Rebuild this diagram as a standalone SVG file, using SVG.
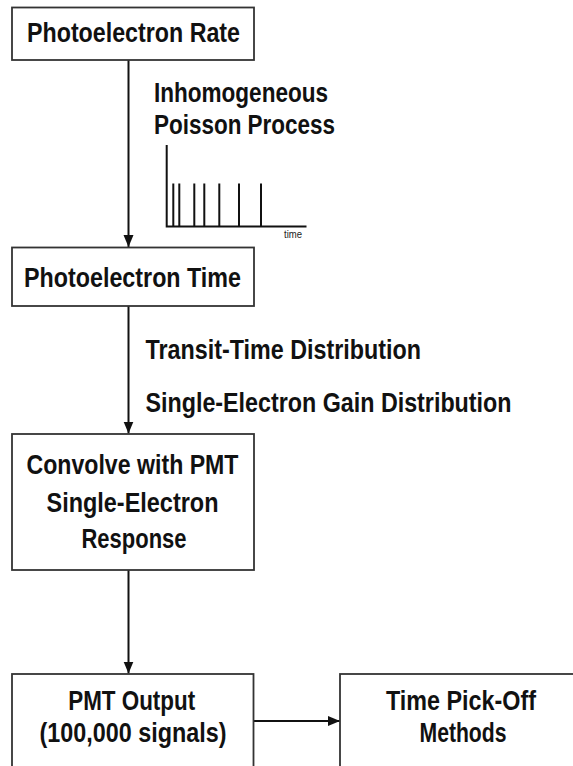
<svg xmlns="http://www.w3.org/2000/svg" width="573" height="766" viewBox="0 0 573 766">
<defs>
<marker id="ah" markerWidth="12" markerHeight="12" refX="12" refY="5.5" orient="auto" markerUnits="userSpaceOnUse">
<path d="M0,0.5 L12,5.5 L0,10.5 Z" fill="#111"/>
</marker>
<style>
.box{fill:#fff;stroke:#333;stroke-width:1.8}
.t{font-family:"Liberation Sans",Arial,sans-serif;font-weight:bold;font-size:27px;fill:#111}
.c{text-anchor:middle}
.conn{stroke:#111;stroke-width:2;fill:none}
.plot{stroke:#111;stroke-width:2;fill:none}
.small{font-family:"Liberation Sans",Arial,sans-serif;font-size:10px;fill:#222}
</style>
</defs>
<rect width="573" height="766" fill="#fff"/>
<g id="connectors">
<line class="conn" x1="128.5" y1="60" x2="128.5" y2="247" marker-end="url(#ah)"/>
<line class="conn" x1="128.5" y1="306" x2="128.5" y2="433.5" marker-end="url(#ah)"/>
<line class="conn" x1="128.5" y1="570" x2="128.5" y2="673.5" marker-end="url(#ah)"/>
<line class="conn" x1="254" y1="721" x2="340" y2="721" marker-end="url(#ah)"/>
</g>
<g id="n1">
<rect class="box" x="12" y="7.5" width="242" height="52.5"/>
<text class="t c" x="133.5" y="42" textLength="213" lengthAdjust="spacingAndGlyphs">Photoelectron Rate</text>
</g>
<g id="label1">
<text class="t" x="154" y="101.5" textLength="174" lengthAdjust="spacingAndGlyphs">Inhomogeneous</text>
<text class="t" x="154" y="133.5" textLength="181" lengthAdjust="spacingAndGlyphs">Poisson Process</text>
</g>
<g id="poisson-plot">
<path class="plot" d="M166.7,145 V226.5 H306.5"/>
<path class="plot" d="M173.3,183.5 V226 M179.3,183.5 V226 M194.3,183.5 V226 M204.3,183.5 V226 M219.3,183.5 V226 M239,183.5 V226 M261,183.5 V226"/>
<text class="small" x="284" y="238" textLength="18" lengthAdjust="spacingAndGlyphs">time</text>
</g>
<g id="n2">
<rect class="box" x="12" y="247.5" width="242" height="58.5"/>
<text class="t c" x="132.5" y="287" textLength="217" lengthAdjust="spacingAndGlyphs">Photoelectron Time</text>
</g>
<g id="label2">
<text class="t" x="145.5" y="359" textLength="275.5" lengthAdjust="spacingAndGlyphs">Transit-Time Distribution</text>
<text class="t" x="145.5" y="412" textLength="366" lengthAdjust="spacingAndGlyphs">Single-Electron Gain Distribution</text>
</g>
<g id="n3">
<rect class="box" x="12" y="434" width="242" height="136"/>
<text class="t c" x="132.5" y="474" textLength="212" lengthAdjust="spacingAndGlyphs">Convolve with PMT</text>
<text class="t c" x="132.5" y="511.5" textLength="172" lengthAdjust="spacingAndGlyphs">Single-Electron</text>
<text class="t c" x="134" y="548" textLength="105" lengthAdjust="spacingAndGlyphs">Response</text>
</g>
<g id="n4">
<rect class="box" x="12" y="674" width="241.5" height="110"/>
<text class="t c" x="131.7" y="710" textLength="127" lengthAdjust="spacingAndGlyphs">PMT Output</text>
<text class="t c" x="133" y="742" textLength="187" lengthAdjust="spacingAndGlyphs">(100,000 signals)</text>
</g>
<g id="n5">
<rect class="box" x="340" y="674" width="260" height="110"/>
<text class="t c" x="461" y="710" textLength="150" lengthAdjust="spacingAndGlyphs">Time Pick-Off</text>
<text class="t c" x="463" y="742" textLength="87" lengthAdjust="spacingAndGlyphs">Methods</text>
</g>
</svg>
